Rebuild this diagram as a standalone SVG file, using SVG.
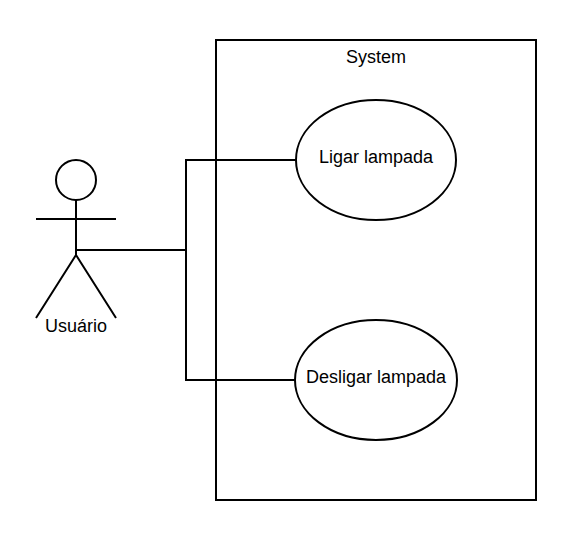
<svg xmlns="http://www.w3.org/2000/svg" width="580" height="536" viewBox="0 0 580 536">
<style>
.s{fill:none;stroke:#000;stroke-width:2}
.b{fill:#fff;stroke:#000;stroke-width:2}
text{font-family:"Liberation Sans",Arial,sans-serif;font-size:18px;fill:#000;text-anchor:middle}
</style>
<rect width="580" height="536" fill="#fff"/>
<g id="system"><rect class="b" x="216" y="40" width="320" height="460"/><text x="376" y="63">System</text></g>
<g id="connectors">
<path class="s" d="M75 250H186V160H296"/>
<path class="s" d="M75 250H186V380H296"/>
</g>
<g id="ligar"><ellipse class="b" cx="376" cy="160" rx="80" ry="60"/><text x="376" y="163">Ligar lampada</text></g>
<g id="desligar"><ellipse class="b" cx="376" cy="380" rx="81" ry="60"/><text x="376" y="383">Desligar lampada</text></g>
<g id="actor">
<circle class="b" cx="76" cy="180" r="20"/>
<path class="s" d="M76 200V255M36 219H116M36 318L76 255L116 318"/>
<text x="76" y="332">Usuário</text>
</g>
</svg>
